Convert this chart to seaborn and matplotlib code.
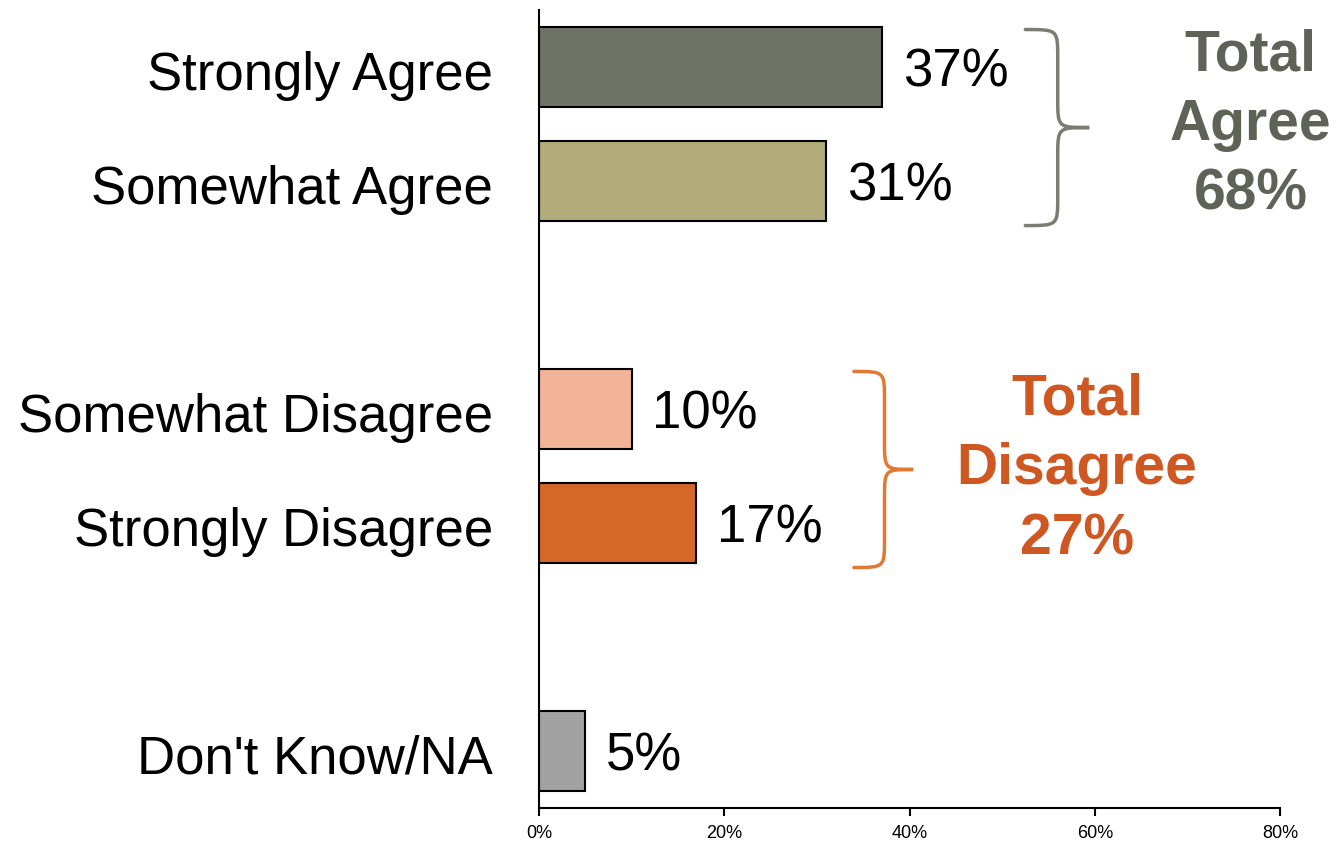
import matplotlib
matplotlib.use("Agg")
import matplotlib.pyplot as plt
import matplotlib.transforms as mtransforms
from matplotlib.path import Path
from matplotlib.patches import PathPatch
import seaborn as sns
import pandas as pd

# Survey responses (percent)
categories = ["Strongly Agree", "Somewhat Agree", "Somewhat Disagree",
              "Strongly Disagree", "Don't Know/NA"]
values = [37, 31, 10, 17, 5]
row_positions = [0, 1, 3, 4, 6]
bar_colors = ["#6f7266", "#b1ac79", "#f2b497", "#d56828", "#a2a2a2"]

x_ticks = [0, 20, 40, 60, 80]
x_tick_labels = ["0%", "20%", "40%", "60%", "80%"]

group_labels = ["Total\nAgree\n68%", "Total\nDisagree\n27%"]
group_colors = ["#5f6257", "#cf5722"]
brace_colors = ["#7b7d73", "#e07a32"]

sns.set_style("white")
plt.rcParams["font.family"] = ["Liberation Sans", "DejaVu Sans"]

df = pd.DataFrame({"category": categories, "value": values, "pos": row_positions})

fig = plt.figure(figsize=(13.38, 8.46), dpi=100)
ax = fig.add_axes([0.4028, 0.0449, 0.9567 - 0.4028, 0.988 - 0.0449])

sns.barplot(data=df, x="value", y="pos", hue="category", orient="h",
            native_scale=True, palette=dict(zip(categories, bar_colors)),
            hue_order=categories, width=0.7, edgecolor="black", linewidth=1.5,
            saturation=1, dodge=False, legend=False, ax=ax)

ax.set_xlim(0, 80)
ax.set_ylim(6.5, -0.5)
ax.set_xlabel("")
ax.set_ylabel("")

ax.set_yticks(row_positions)
ax.set_yticklabels(categories, fontsize=38, color="black")
ax.tick_params(axis="y", length=0, pad=33)
shift_down = mtransforms.ScaledTranslation(0, -3 / 100, fig.dpi_scale_trans)
for lbl in ax.get_yticklabels():
    lbl.set_transform(lbl.get_transform() + shift_down)

ax.set_xticks(x_ticks)
ax.set_xticklabels(x_tick_labels, fontsize=13, color="black",
                   family=["Liberation Sans Narrow", "Liberation Sans"])
ax.tick_params(axis="x", length=6, width=1.5, color="black", pad=6, direction="out")
ax.xaxis.set_ticks_position("bottom")

for side in ["top", "right"]:
    ax.spines[side].set_visible(False)
for side in ["left", "bottom"]:
    ax.spines[side].set_color("black")
    ax.spines[side].set_linewidth(1.5)

# value labels next to each bar
for container in ax.containers:
    for bar in container:
        w = bar.get_width()
        yc = bar.get_y() + bar.get_height() / 2
        ax.annotate(f"{int(round(w))}%", xy=(w, yc), xytext=(15, -4),
                    textcoords="offset points", ha="left", va="center",
                    fontsize=38, color="black")


def draw_brace(ax, x_tail, x_line, x_tip, y_top, y_bot, ry, color):
    y_mid = (y_top + y_bot) / 2
    verts = [
        (x_tail, y_top),
        (x_line, y_top), (x_line, y_top), (x_line, y_top + ry),
        (x_line, y_mid - ry),
        (x_line, y_mid), (x_line, y_mid), (x_tip, y_mid),
        (x_line, y_mid), (x_line, y_mid), (x_line, y_mid + ry),
        (x_line, y_bot - ry),
        (x_line, y_bot), (x_line, y_bot), (x_tail, y_bot),
    ]
    codes = [Path.MOVETO,
             Path.CURVE4, Path.CURVE4, Path.CURVE4,
             Path.LINETO,
             Path.CURVE4, Path.CURVE4, Path.CURVE4,
             Path.CURVE4, Path.CURVE4, Path.CURVE4,
             Path.LINETO,
             Path.CURVE4, Path.CURVE4, Path.CURVE4]
    patch = PathPatch(Path(verts, codes), facecolor="none", edgecolor=color,
                      linewidth=2.5, clip_on=False, capstyle="round")
    ax.add_patch(patch)


draw_brace(ax, 52.5, 56.0, 59.4, -0.33, 1.39, 0.25, brace_colors[0])
draw_brace(ax, 34.0, 37.3, 40.4, 2.67, 4.39, 0.25, brace_colors[1])

ax.text(76.8, 0.51, group_labels[0], ha="center", va="center", fontsize=41,
        fontweight="bold", color=group_colors[0], linespacing=1.37, clip_on=False)
ax.text(58.1, 3.53, group_labels[1], ha="center", va="center", fontsize=41,
        fontweight="bold", color=group_colors[1], linespacing=1.37, clip_on=False)

fig.savefig("out.png", dpi=100)
